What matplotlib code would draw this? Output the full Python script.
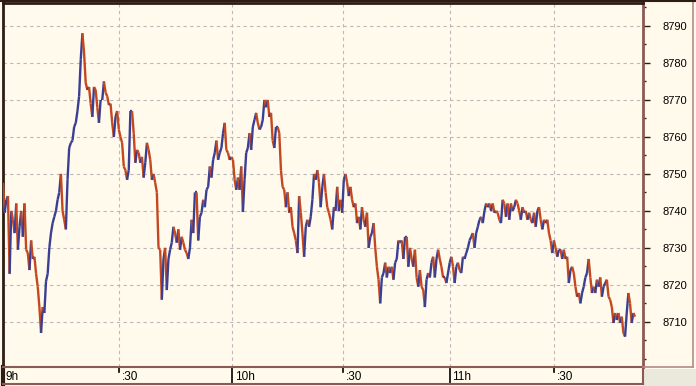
import numpy as np
import matplotlib
matplotlib.use("Agg")
import matplotlib.pyplot as plt
from matplotlib.collections import LineCollection
from matplotlib.patches import Rectangle
from matplotlib.lines import Line2D
from matplotlib.ticker import MultipleLocator
import matplotlib.transforms as mtransforms

# ---- data ----
price_1 = [8747.6, 8739.5, 8743, 8744, 8723, 8740, 8737.6, 8734, 8742, 8729.5,
           8735.7, 8740, 8733, 8742, 8729.5, 8728.6, 8724, 8732, 8727, 8727.6,
           8723, 8719.5, 8714, 8707, 8714, 8712.4, 8721, 8723, 8730, 8734,
           8736.7, 8738.4, 8740, 8743, 8745, 8750, 8740, 8737.6, 8735, 8748.4,
           8757, 8758.4, 8759, 8762.7, 8763.8, 8767, 8771, 8781, 8788, 8782.7,
           8774.6, 8772.7, 8773.5, 8769, 8765.4, 8773.5, 8772.7, 8768, 8763.8, 8770,
           8770, 8775, 8772, 8771, 8768.6]
price_2 = [8769, 8763.8, 8760, 8765.4, 8767, 8762, 8760, 8758.4, 8752, 8751,
           8748.4, 8751, 8767, 8767, 8761, 8753, 8756.5, 8755.7, 8753, 8754.6,
           8749, 8753, 8758.4, 8756.5, 8753.8, 8748.4, 8750, 8747.6, 8745,
           8730, 8729.5, 8716, 8727, 8730, 8718.6, 8727, 8729.5, 8731.4, 8735.7,
           8734, 8731.4, 8735, 8729.5, 8733, 8731.4, 8729.5, 8728.6, 8727, 8730,
           8737.6, 8734, 8745, 8745, 8732, 8738.4, 8739.5, 8743, 8741, 8745.7,
           8746.5, 8752, 8749, 8753.8, 8755.7]
price_3 = [8759, 8753.8, 8755.7, 8757, 8761, 8763.8, 8756.5, 8755.7, 8753.8,
           8754.6, 8753.8, 8748.4, 8745.7, 8749, 8745.7, 8752, 8739.7, 8748.4, 8755.7,
           8757, 8761, 8756.5, 8762.7, 8764.6, 8766.5, 8763.8, 8762, 8762.7, 8764.6,
           8770, 8768, 8770, 8765.4, 8766.5, 8759, 8757, 8762.7, 8762.7, 8761,
           8751, 8746.5, 8745.7, 8741, 8745, 8739.5, 8741, 8735.7, 8734, 8732,
           8728.6, 8744, 8739.5, 8734, 8727.6, 8735.7, 8737.6, 8735.7, 8738.4, 8743,
           8750, 8748.4, 8751, 8747.6, 8741]
price_4 = [8746.5, 8750, 8745, 8741, 8739.5, 8737.6, 8735, 8741, 8740, 8746.5,
           8740, 8743, 8739.5, 8748.4, 8750, 8747.6, 8744, 8746.5, 8743, 8741,
           8742, 8736.7, 8738.4, 8735, 8741, 8737.6, 8735.7, 8739.5, 8730, 8733,
           8734, 8736.7, 8730, 8724.9, 8721.4, 8715, 8722, 8723.2, 8726, 8722,
           8724.9, 8723.2, 8724.9, 8721.4, 8726, 8727, 8732, 8731.4, 8732, 8727,
           8733, 8733, 8724.9, 8730, 8727, 8724.9, 8729.5, 8722, 8719.5, 8724,
           8719.5, 8718.6, 8714, 8721.4]
price_5 = [8723.2, 8722, 8726, 8727.6, 8722, 8727, 8729.5, 8727, 8724.9, 8722,
           8722, 8720.5, 8723.2, 8726, 8727.6, 8724.9, 8720.5, 8724.9, 8726, 8724,
           8723.2, 8727.6, 8727, 8728.6, 8730, 8732, 8733, 8734, 8730, 8734,
           8735.7, 8737.6, 8738.4, 8736.7, 8740, 8742, 8741, 8742, 8740, 8742,
           8739.5, 8740, 8739.5, 8737.6, 8736.7, 8743, 8742, 8738.4, 8742, 8737.6,
           8742, 8740, 8741, 8743, 8742, 8740, 8737.6, 8741, 8739.5, 8740,
           8737.6, 8739.5, 8737.6]
price_6 = [8736.7, 8739.5, 8735.7, 8740, 8741, 8737.6, 8735, 8737.6, 8736.7, 8737.6,
           8734, 8732, 8728.6, 8732, 8730, 8727.6, 8729.5, 8729.5,
           8727, 8729.5, 8727, 8727.6, 8720.5, 8724, 8724.9, 8723.2, 8719.5, 8716.8,
           8717.8, 8715, 8717.8, 8719.5, 8722, 8723.2, 8727, 8722, 8717.8, 8719.5,
           8717.8, 8721.4, 8719.5, 8722, 8716.8, 8719.5, 8720.5, 8721.4, 8716.8, 8716,
           8714, 8709.7, 8712.4, 8710.5, 8712.4, 8709.7, 8711.4, 8707, 8706,
           8712.4, 8717.8, 8715, 8709.7, 8712.4, 8711.4]

tick_index = [0, 70, 138.4, 205.6, 270, 333]
tick_labels = ["9h", ":30", "10h", ":30", "11h", ":30"]
tick_is_hour = [True, False, True, False, True, False]
y_ticks = [8710, 8720, 8730, 8740, 8750, 8760, 8770, 8780, 8790]

# ---- styles ----
BG = "#fffaeb"
MAROON = "#8c5a55"
DARK = "#2e1c14"
UP = "#3b3f93"
DOWN = "#c4481f"
GRID = "#b9b9b9"

W, H = 696, 386
fig = plt.figure(figsize=(W / 100, H / 100), dpi=100, facecolor=BG)

# gray corner and right panel frame
fig.add_artist(Rectangle((643 / W, 0), 53 / W, 17 / H, transform=fig.transFigure,
                         facecolor="#ebe8dc", edgecolor="none", zorder=0))
fig.add_artist(Line2D([693 / W, 693 / W], [19 / H, 1], transform=fig.transFigure,
                      color="#b48c86", lw=1.2))
fig.add_artist(Line2D([643 / W, 693 / W], [19 / H, 19 / H], transform=fig.transFigure,
                      color="#b48c86", lw=1.2))

ax = fig.add_axes([3 / W, 19 / H, 640 / W, 364 / H], facecolor=BG)
values = np.array(price_1 + price_2 + price_3 + price_4 + price_5 + price_6)
x = np.arange(len(values))
pts = np.column_stack([x, values])
segs = np.stack([pts[:-1], pts[1:]], axis=1)
diff = np.diff(values)
colors = [UP if d >= 0 else DOWN for d in diff]
lc = LineCollection(segs, colors=colors, linewidths=1.7, zorder=3)
ax.add_collection(lc)

n = len(values)
ax.set_xlim(0, (n - 1) * 640 / 632)
ax.set_ylim(8697.8, 8796.2)

ax.set_yticks(y_ticks)
ax.yaxis.set_minor_locator(MultipleLocator(5))
ax.yaxis.tick_right()
ax.tick_params(axis="y", which="major", length=5, width=1, color=DARK,
               labelsize=8, pad=9, labelcolor="black")
ax.tick_params(axis="y", which="minor", length=2.2, width=1, color=DARK)
for lab in ax.get_yticklabels():
    lab.set_fontfamily("Liberation Sans")

ax.set_xticks(tick_index)
ax.tick_params(axis="x", length=0, labelbottom=False)
ax.grid(True, axis="both", which="major", color=GRID, linestyle=(0, (3, 3)), lw=0.8)
ax.set_axisbelow(True)

for side in ["left", "top"]:
    ax.spines[side].set_color(DARK)
    ax.spines[side].set_linewidth(2)
for side in ["right", "bottom"]:
    ax.spines[side].set_color(MAROON)
    ax.spines[side].set_linewidth(2)

# time strip
ax2 = fig.add_axes([3 / W, 2 / H, 640 / W, 17 / H], facecolor=BG, sharex=ax)
ax2.set_ylim(0, 1)
ax2.tick_params(left=False, bottom=False, labelleft=False, labelbottom=False)
for s in ax2.spines.values():
    s.set_color(MAROON)
    s.set_linewidth(1.5)
ax2.spines["left"].set_color(DARK)
ax2.spines["left"].set_linewidth(3)
offs = mtransforms.offset_copy(ax2.transData, fig=fig, x=2, y=0, units="points")
for tx, lab, hour in zip(tick_index, tick_labels, tick_is_hour):
    if hour:
        ax2.plot([tx, tx], [0, 1], color="black", lw=1.2)
    else:
        ax2.plot([tx, tx], [0.72, 1], color="black", lw=1.2)
    ax2.text(tx, 0.42, lab, transform=offs, ha="left", va="center",
             fontsize=8.5, family="Liberation Sans", color="black")

fig.add_artist(Line2D([0, 1], [1 - 1 / H, 1 - 1 / H], transform=fig.transFigure,
                      color=DARK, lw=1.5))

fig.savefig("out.png", dpi=100, facecolor=BG)
